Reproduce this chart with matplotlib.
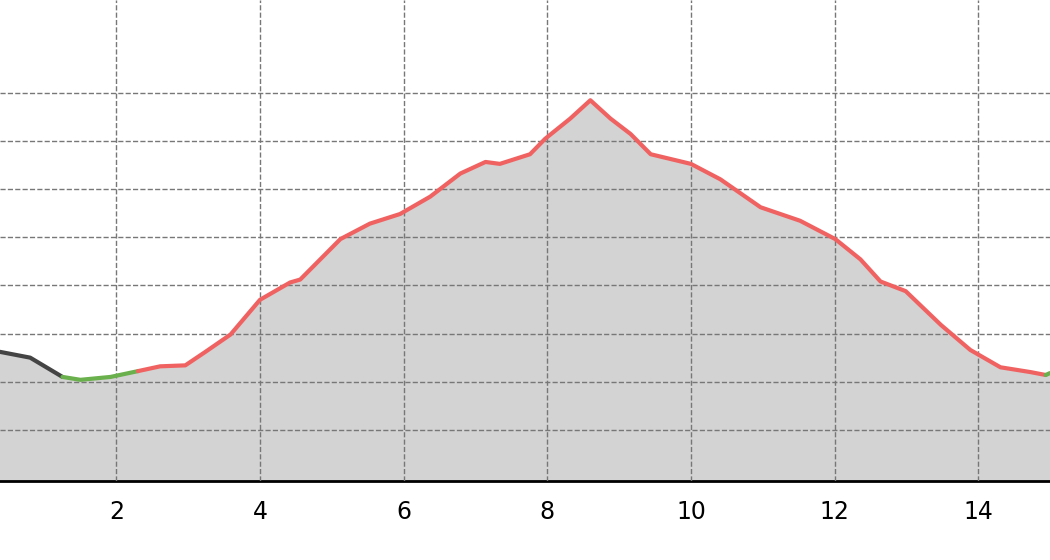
import matplotlib
matplotlib.use("Agg")
import matplotlib.pyplot as plt
import numpy as np

dist_km = [0.38, 0.80, 1.25, 1.50, 1.92, 2.30, 2.61, 2.96, 3.24, 3.59, 4.00, 4.42, 4.56,
           5.12, 5.53, 5.95, 6.37, 6.79, 7.14, 7.34, 7.76, 7.97, 8.32, 8.60, 8.88, 9.16,
           9.44, 10.00, 10.41, 10.97, 11.52, 12.01, 12.36, 12.64, 12.99, 13.48, 13.89,
           14.31, 14.73, 14.94, 15.00]
elev_m = [181, 175, 155, 152, 155, 161, 166, 167, 181, 199, 235, 253, 256,
          298, 314, 324, 342, 366, 378, 376, 386, 402, 423, 442, 423, 407,
          386, 376, 360, 331, 317, 298, 277, 254, 244, 209, 183,
          165, 160, 157, 159]
# segment colour classes: index ranges (start, end inclusive) and colour
segments = [(0, 2, "#444444"), (2, 5, "#6ab04c"), (5, 39, "#f06262"), (39, 40, "#6ab04c")]
xticks = [2, 4, 6, 8, 10, 12, 14]
ygrid = [100, 150, 200, 250, 300, 350, 400, 450]

fig = plt.figure(figsize=(10.5, 5.6), dpi=100)
ax = fig.add_axes([0, 0.141, 1, 0.859])
x = np.array(dist_km); y = np.array(elev_m)
ax.fill_between(x, 0, y, color="#d3d3d3", zorder=1)
for s, e, c in segments:
    ax.plot(x[s:e+1], y[s:e+1], color=c, lw=3, zorder=3, solid_capstyle="round")
ax.set_xlim(0.38, 15.0)
ax.set_ylim(47, 546)
ax.set_yticks(ygrid)
ax.set_xticks(xticks)
ax.set_xticklabels([str(t) for t in xticks], fontsize=17)
ax.grid(True, linestyle="--", color="#777777", lw=1, zorder=2)
ax.set_axisbelow(False)
for sp in ["left", "right", "top"]:
    ax.spines[sp].set_visible(False)
ax.spines["bottom"].set_linewidth(2)
ax.tick_params(axis="y", left=False, labelleft=False)
ax.tick_params(axis="x", length=0, pad=14)
ax.set_facecolor("white")
fig.savefig("out.png", dpi=100)
